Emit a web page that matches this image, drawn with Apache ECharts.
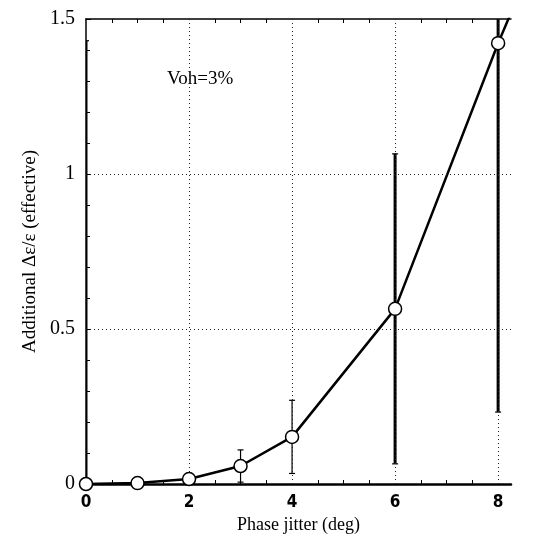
<!DOCTYPE html>
<html>
<head>
<meta charset="utf-8">
<script src="https://cdn.jsdelivr.net/npm/echarts@6/dist/echarts.min.js"></script>
<style>
  html, body { margin: 0; padding: 0; background: #fff; }
  #chart { width: 542px; height: 552px; }
</style>
</head>
<body>
<div id="chart"></div>
<script>
// Measured growth of the effective energy spread versus RF phase jitter
const jitterDeg = [0, 1, 2, 3, 4, 6, 8];
const deltaEps  = [0, 0.003, 0.016, 0.058, 0.152, 0.565, 1.422];
const errHalf   = [1.43, 0.003, 0.018, 0.052, 0.118, 0.5, 1.19];
// continuation of the curve beyond the last measurement
const trendTail = [8.25, 1.52];
const xTickLabels = [0, 2, 4, 6, 8];
const gridXValues = [2, 4, 6, 8];
const gridYValues = [0.5, 1];
const noteText = 'Voh=3%';

const serif = "'Liberation Serif', 'DejaVu Serif', serif";
const narrow = "'Liberation Sans Narrow', 'DejaVu Sans Condensed', 'Liberation Sans', sans-serif";

const points = jitterDeg.map((x, i) => [x, deltaEps[i]]);
const curve = points.concat([trendTail]);
const bars = jitterDeg.map((x, i) => [x, deltaEps[i] - errHalf[i], deltaEps[i] + errHalf[i]]);

const dotted = { color: '#222', width: 1, type: [1, 3] };

const chart = echarts.init(document.getElementById('chart'), null, { renderer: 'canvas' });

chart.setOption({
  backgroundColor: '#fff',
  animation: false,
  grid: { left: 86, right: 31, top: 19, bottom: 68 },
  xAxis: [
    {
      type: 'value', position: 'bottom', min: 0, max: 8.25, interval: 2,
      axisLine: { show: true, onZero: false, lineStyle: { color: '#000', width: 2.5 } },
      axisTick: { show: false, inside: true },
      minorTick: { show: true, splitNumber: 4, length: 4, lineStyle: { color: '#000', width: 1 } },
      splitLine: { show: false },
      axisLabel: {
        color: '#000', fontFamily: narrow, fontWeight: 'bold', fontSize: 17, margin: 10,
        showMaxLabel: false,
        formatter: v => (xTickLabels.indexOf(v) >= 0 ? String(v) : '')
      },
      name: 'Phase jitter (deg)', nameLocation: 'middle', nameGap: 30,
      nameTextStyle: { color: '#000', fontFamily: serif, fontSize: 18 }
    },
    {
      type: 'value', position: 'top', min: 0, max: 8.25, interval: 2,
      axisLine: { show: true, onZero: false, lineStyle: { color: '#000', width: 1.5 } },
      axisTick: { show: false, inside: true },
      minorTick: { show: true, splitNumber: 4, length: 4, lineStyle: { color: '#000', width: 1 } },
      splitLine: { show: false },
      axisLabel: { show: false }
    }
  ],
  yAxis: {
    type: 'value', min: 0, max: 1.5, interval: 0.5,
    axisLine: { show: true, onZero: false, lineStyle: { color: '#000', width: 1.5 } },
    axisTick: { show: true, inside: true, length: 5, lineStyle: { color: '#000' } },
    minorTick: { show: true, splitNumber: 5, length: 4, lineStyle: { color: '#000', width: 1 } },
    splitLine: { show: false },
    axisLabel: { color: '#000', fontFamily: serif, fontSize: 20, margin: 11 },
    name: 'Additional \u0394\u03b5/\u03b5 (effective)', nameLocation: 'middle', nameGap: 45,
    nameTextStyle: { color: '#000', fontFamily: serif, fontSize: 19 }
  },
  graphic: [
    {
      type: 'text', left: 167, top: 70,
      style: { text: noteText, font: "19px 'Liberation Serif', serif", fill: '#000' }
    }
  ],
  series: [
    {
      // dotted reference grid
      type: 'line', data: [], silent: true,
      markLine: {
        silent: true, symbol: ['none', 'none'], label: { show: false },
        lineStyle: dotted,
        data: gridXValues.map(v => ({ xAxis: v })).concat(gridYValues.map(v => ({ yAxis: v })))
      }
    },
    {
      type: 'custom', clip: true, z: 3,
      data: bars,
      renderItem: function (params, api) {
        const x = api.value(0), lo = api.value(1), hi = api.value(2);
        const top = api.coord([x, hi]);
        const bot = api.coord([x, lo]);
        const w = (hi - lo) > 0.6 ? 3 : 1.2;
        const cap = 3;
        return {
          type: 'group',
          children: [
            { type: 'line', shape: { x1: top[0], y1: top[1], x2: bot[0], y2: bot[1] },
              style: { stroke: '#000', lineWidth: w } },
            { type: 'line', shape: { x1: top[0] - cap, y1: top[1], x2: top[0] + cap, y2: top[1] },
              style: { stroke: '#000', lineWidth: 1.2 } },
            { type: 'line', shape: { x1: bot[0] - cap, y1: bot[1], x2: bot[0] + cap, y2: bot[1] },
              style: { stroke: '#000', lineWidth: 1.2 } }
          ]
        };
      }
    },
    {
      type: 'line', data: curve, showSymbol: false, z: 4,
      lineStyle: { color: '#000', width: 2.5 }
    },
    {
      type: 'scatter', data: points, z: 5,
      symbol: 'circle', symbolSize: 13,
      itemStyle: { color: '#fff', borderColor: '#000', borderWidth: 1.5, opacity: 1 }
    }
  ]
});
</script>
</body>
</html>
